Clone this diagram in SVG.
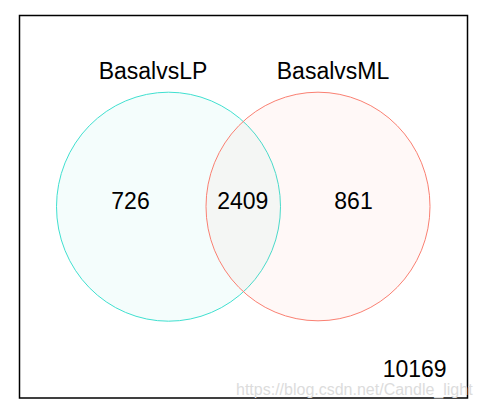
<svg xmlns="http://www.w3.org/2000/svg" width="482" height="409" viewBox="0 0 482 409">
<style>
text { font-family: "Liberation Sans", Arial, sans-serif; font-size: 23px; fill: #000; text-anchor: middle; }
.wm { font-size: 16px; fill: #dcdcdc; text-anchor: start; }
</style>
<rect x="0" y="0" width="482" height="409" fill="#fff"/>
<rect x="19.5" y="15.5" width="448" height="382.5" fill="none" stroke="#000" stroke-width="1.5"/>
<g id="setLP">
<ellipse cx="168.5" cy="206.7" rx="112" ry="114.5" fill="#40E0D0" fill-opacity="0.06" stroke="#40E0D0" stroke-width="1"/>
</g>
<g id="setML">
<ellipse cx="318" cy="206.5" rx="112" ry="114.3" fill="#FA8072" fill-opacity="0.06" stroke="#FA8072" stroke-width="1"/>
</g>
<g id="connectors"></g>
<g id="labels">
<text x="153" y="79">BasalvsLP</text>
<text x="333" y="79">BasalvsML</text>
<text x="130.5" y="208.7">726</text>
<text x="242.8" y="208.7">2409</text>
<text x="353.5" y="208.7">861</text>
<text x="414.7" y="376.7">10169</text>
</g>
<text class="wm" x="236" y="394.5">https://blog.csdn.net/Candle_light</text>
</svg>
